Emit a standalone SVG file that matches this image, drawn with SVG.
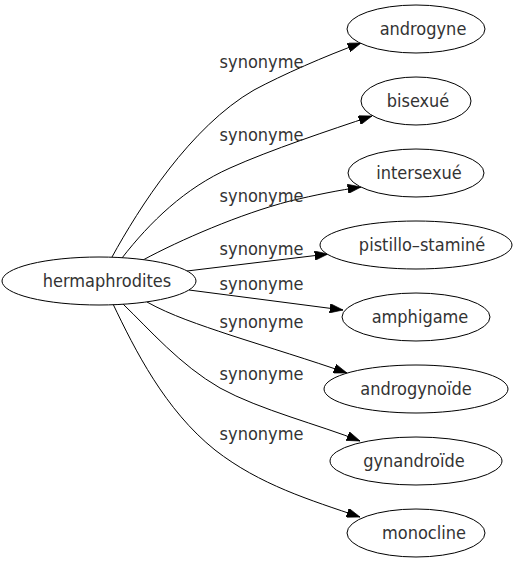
<svg xmlns="http://www.w3.org/2000/svg" width="516" height="563" viewBox="0 0 516 563">
<defs>
<marker id="arr" viewBox="0 0 10 7" refX="10" refY="3.5" markerWidth="13.3" markerHeight="9.3" markerUnits="userSpaceOnUse" orient="auto">
<path d="M0,0 L10,3.5 L0,7 z" fill="#000" stroke="#000" stroke-width="0.5"/>
</marker>
</defs>
<style>
.node ellipse{fill:#fff;stroke:#000;stroke-width:1}
text{font-family:"DejaVu Sans Condensed","DejaVu Sans",sans-serif;font-stretch:condensed;font-size:18px;fill:#333;text-anchor:middle}
.edges path{fill:none;stroke:#000;stroke-width:1;marker-end:url(#arr)}
</style>
<rect width="516" height="563" fill="#fff"/>
<g id="edges" class="edges">
<path d="M112,257 C139,208 190,127 254,90 C282,75 325,56 361,43"/>
<text x="261.5" y="68">synonyme</text>
<path d="M122,258 C150,222 185,188 230,168 C270,150 330,130 372,116"/>
<text x="261.5" y="140.5">synonyme</text>
<path d="M143,260 C180,240 240,214 290,201 C315,195 340,190 361,187"/>
<text x="261.5" y="201.5">synonyme</text>
<path d="M187,271 L328,254"/>
<text x="261.5" y="255">synonyme</text>
<path d="M189,290 L343,310"/>
<text x="261.5" y="290">synonyme</text>
<path d="M147,302 C170,315 200,325 230,335 C270,348 310,360 347,373"/>
<text x="261.5" y="328">synonyme</text>
<path d="M123,304 C150,330 180,365 220,388 C260,410 320,425 360,441"/>
<text x="261.5" y="380">synonyme</text>
<path d="M113,304 C135,350 165,410 215,450 C260,485 310,500 360,517"/>
<text x="261.5" y="440">synonyme</text>
</g>
<g id="hermaphrodites" class="node"><ellipse cx="99" cy="281" rx="97" ry="24"/><text x="107" y="287">hermaphrodites</text></g>
<g id="androgyne" class="node"><ellipse cx="416" cy="29" rx="69" ry="24"/><text x="423" y="35">androgyne</text></g>
<g id="bisexue" class="node"><ellipse cx="416" cy="101" rx="55" ry="24"/><text x="418" y="107">bisexué</text></g>
<g id="intersexue" class="node"><ellipse cx="416" cy="173" rx="68" ry="24"/><text x="419" y="179">intersexué</text></g>
<g id="pistillo-stamine" class="node"><ellipse cx="416" cy="245" rx="96" ry="24"/><text x="422" y="251">pistillo–staminé</text></g>
<g id="amphigame" class="node"><ellipse cx="416" cy="317" rx="74" ry="24"/><text x="420" y="323">amphigame</text></g>
<g id="androgynoide" class="node"><ellipse cx="416" cy="389" rx="92" ry="24"/><text x="416" y="395">androgynoïde</text></g>
<g id="gynandroide" class="node"><ellipse cx="416" cy="461" rx="86" ry="24"/><text x="414" y="467">gynandroïde</text></g>
<g id="monocline" class="node"><ellipse cx="416" cy="533" rx="69" ry="24"/><text x="424" y="539">monocline</text></g>
</svg>
